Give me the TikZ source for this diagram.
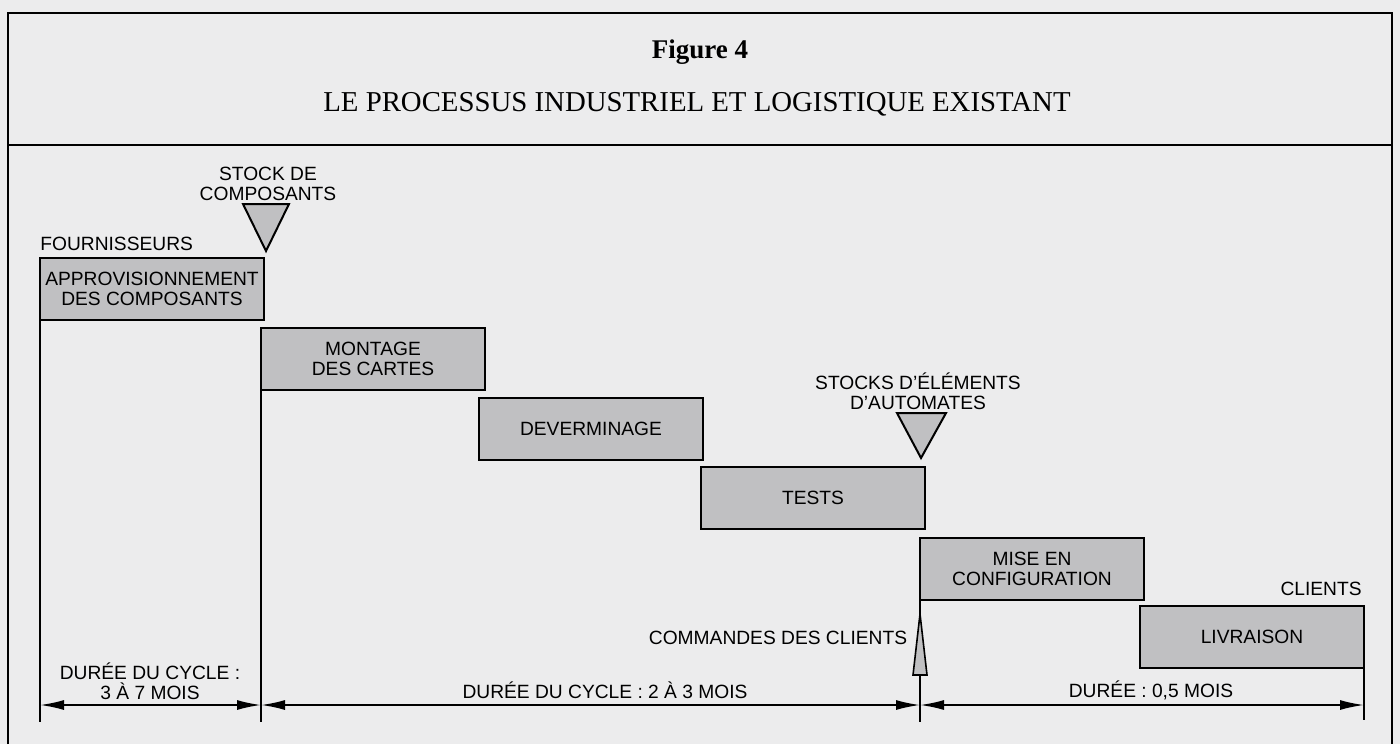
\documentclass[tikz,border=0pt]{standalone}
\usepackage{fontspec}
\setmainfont{Liberation Serif}
\setsansfont{Liberation Sans}
\usetikzlibrary{arrows.meta}

\definecolor{paper}{RGB}{236,236,237}
\definecolor{halftone}{RGB}{192,192,194}

\newcommand{\labelfont}{\sffamily\fontsize{9.6}{9.8}\selectfont}

\tikzset{
  phase/.style={draw, line width=1pt, fill=halftone, font=\labelfont, align=center,
    inner sep=0pt, outer sep=0pt, anchor=north west, minimum width=112pt, minimum height=31pt},
  stocktri/.style={draw, line width=1pt, fill=halftone, line join=miter},
  guide/.style={line width=0.8pt},
  span/.style={line width=0.9pt, {Latex[length=12pt,width=5pt]}-{Latex[length=12pt,width=5pt]}},
  caption/.style={font=\labelfont, align=center, inner sep=0pt},
}

\begin{document}
\begin{tikzpicture}[x=0.5pt, y=-0.5pt]
  \useasboundingbox (0,0) rectangle (1400,744);
  \fill[paper] (0,0) rectangle (1400,744);

  % frame and header
  \draw[line width=1.3pt] (8,744) -- (8,13) -- (1392,13) -- (1392,744);
  \draw[line width=1.3pt] (8,145) -- (1392,145);
  \node (fig) at (700,52) {\fontsize{13.5}{14}\selectfont\bfseries Figure 4};
  \node (title) at (697,104) {\fontsize{14.4}{15}\selectfont LE PROCESSUS INDUSTRIEL ET LOGISTIQUE EXISTANT};

  % phases
  \node[phase] (appro) at (40,258) {APPROVISIONNEMENT\\DES COMPOSANTS};
  \node[phase] (montage) at (261,328) {MONTAGE\\DES CARTES};
  \node[phase] (deverm) at (479,398) {DEVERMINAGE};
  \node[phase] (tests) at (701,467) {TESTS};
  \node[phase] (config) at (920,538) {MISE EN\\CONFIGURATION};
  \node[phase] (livraison) at (1140,606) {LIVRAISON};

  % stocks
  \filldraw[stocktri] (243,204) -- (289,204) -- (266,251) -- cycle;
  \node[caption] (stockcomp) at (268,184) {STOCK DE\\COMPOSANTS};
  \filldraw[stocktri] (897,413) -- (946,413) -- (921,458) -- cycle;
  \node[caption] (stockauto) at (918,391) {STOCKS D'ÉLÉMENTS\\D'AUTOMATES};

  % labels
  \node[caption, anchor=west] (fourn) at (40,244) {FOURNISSEURS};
  \node[caption, anchor=east] (clients) at (1362,589) {CLIENTS};
  \node[caption] (commandes) at (778,638) {COMMANDES DES CLIENTS};

  % time lines
  \coordinate (end0) at (40,722);
  \coordinate (end1) at (261,722);
  \coordinate (end2) at (920,722);
  \coordinate (end3) at (1364,720);
  \draw[guide] (appro.south west) -- (end0);
  \draw[guide] (montage.south west) -- (end1);
  \draw[guide] (config.south west) -- (end2);
  \draw[guide] (livraison.south east) -- (end3);
  \filldraw[stocktri, line width=0.8pt] (913,675) -- (920,614) -- (927,675) -- cycle;

  % durations
  \coordinate (d0) at (40,705);
  \coordinate (d1) at (261,705);
  \coordinate (d2) at (920,705);
  \coordinate (d3) at (1364,705);
  \draw[span] (d0) -- (d1);
  \draw[span] (d1) -- (d2);
  \draw[span] (d2) -- (d3);
  \node[caption] (cycle1) at (150,681) {DURÉE DU CYCLE :\\3 À 7 MOIS};
  \node[caption] (cycle2) at (605,690) {DURÉE DU CYCLE : 2 À 3 MOIS};
  \node[caption] (cycle3) at (1151,690) {DURÉE : 0,5 MOIS};
\end{tikzpicture}
\end{document}
